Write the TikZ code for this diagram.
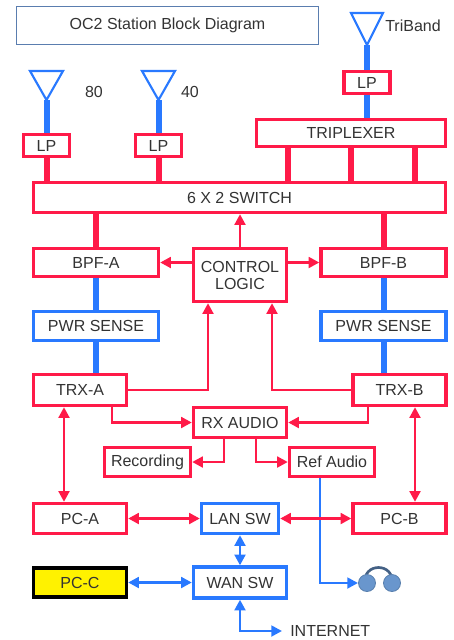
\documentclass[tikz,border=0pt]{standalone}
\usepackage{fontspec}
\setmainfont{Liberation Sans}
\usetikzlibrary{arrows.meta}
\definecolor{rojo}{RGB}{255,26,72}
\definecolor{azul}{RGB}{41,121,255}
\definecolor{texto}{RGB}{51,51,51}
\definecolor{marco}{RGB}{90,125,175}
\definecolor{auricular}{RGB}{105,150,205}

\begin{document}
\begin{tikzpicture}[x=0.75pt, y=-0.75pt, >={Triangle[length=8pt,width=8pt]},
    tam/.style 2 args={minimum width={(#1-3)*0.75pt}, minimum height={(#2-3)*0.75pt}},
    caja/.style={draw, line width=2.5pt, fill=white, inner sep=0pt, text=texto,
        font=\fontsize{12}{12.75}\selectfont, align=center},
    cajaroja/.style={caja, draw=rojo},
    cajaazul/.style={caja, draw=azul},
    etiqueta/.style={text=texto, font=\fontsize{12}{14}\selectfont},
    antena/.style={draw=azul, line width=1.6pt, line join=miter},
    tallo/.style={line width=4.5pt},
    flecha/.style={line width=2.2pt}]
    \useasboundingbox (0,0) rectangle (454,640);

    % Titulo
    \node[draw=marco, line width=0.8pt, minimum width=226.5pt, minimum height=28.5pt,
        etiqueta] (titulo) at (167.5,25.5) {OC2 Station Block Diagram};

    % Antenas
    \draw[antena] (30,71) -- (63,71) -- (46.5,100) coordinate (antA) -- cycle;
    \draw[antena] (142,71) -- (175,71) -- (158.5,100) coordinate (antB) -- cycle;
    \draw[antena] (351,13) -- (383,13) -- (367,45) coordinate (antT) -- cycle;
    \node[etiqueta] (l80) at (94,92) {80};
    \node[etiqueta] (l40) at (190,92) {40};
    \node[etiqueta] (ltri) at (413,26) {TriBand};

    % Cajas rojas
    \node[cajaroja, tam={49}{25}] (lpA) at (46.5,145.5) {LP};
    \node[cajaroja, tam={49}{25}] (lpB) at (158.5,145.5) {LP};
    \node[cajaroja, tam={49}{25}] (lpT) at (367,82.5) {LP};
    \node[cajaroja, tam={192}{30}] (trip) at (351,133) {TRIPLEXER};
    \node[cajaroja, tam={415}{33}] (sw) at (239.5,197.5) {6 X 2 SWITCH};
    \node[cajaroja, tam={128}{31}] (bpfA) at (96,262.5) {BPF-A};
    \node[cajaroja, tam={128}{31}] (bpfB) at (383.5,262.5) {BPF-B};
    \node[cajaroja, tam={96}{56}] (ctl) at (240,275) {CONTROL\\LOGIC};
    \node[cajaroja, tam={96}{34}] (trxA) at (80,390) {TRX-A};
    \node[cajaroja, tam={96}{34}] (trxB) at (399.5,390) {TRX-B};
    \node[cajaroja, tam={96}{33}] (rx) at (240,422.5) {RX AUDIO};
    \node[cajaroja, tam={89}{32}] (rec) at (147.5,462) {Recording};
    \node[cajaroja, tam={88}{32}] (ref) at (332,462) {Ref Audio};
    \node[cajaroja, tam={96}{33}] (pcA) at (80,518.5) {PC-A};
    \node[cajaroja, tam={96}{33}] (pcB) at (399.5,518.5) {PC-B};

    % Cajas azules
    \node[cajaazul, tam={128}{32}] (psA) at (96,326) {PWR SENSE};
    \node[cajaazul, tam={128}{32}] (psB) at (383.5,326) {PWR SENSE};
    \node[cajaazul, tam={80}{33}] (lan) at (240,518.5) {LAN SW};
    \node[cajaazul, tam={96}{34}] (wan) at (240,582.5) {WAN SW};
    \node[caja, draw=black, fill=yellow, tam={96}{32}] (pcC) at (80,582.5) {PC-C};
    \node[etiqueta, anchor=west, inner sep=6pt] (inet) at (282,631) {INTERNET};

    % Lineas gruesas de RF
    \draw[tallo, azul] (antA) -- (lpA);
    \draw[tallo, azul] (antB) -- (lpB);
    \draw[tallo, azul] (antT) -- (lpT);
    \draw[tallo, azul] (lpT) -- (lpT |- trip.north);
    \draw[tallo, rojo] (lpA) -- (lpA |- sw.north);
    \draw[tallo, rojo] (lpB) -- (lpB |- sw.north);
    \foreach \x in {288,351,415} {
        \coordinate (pata) at (\x,0);
        \draw[tallo, rojo] (trip.south -| pata) -- (sw.north -| pata);
    }
    \draw[tallo, rojo] (bpfA) -- (bpfA |- sw.south);
    \draw[tallo, rojo] (bpfB) -- (bpfB |- sw.south);
    \draw[tallo, azul] (bpfA) -- (psA);
    \draw[tallo, azul] (bpfB) -- (psB);
    \draw[tallo, azul] (psA) -- (psA |- trxA.north);
    \draw[tallo, azul] (psB) -- (psB |- trxB.north);

    % Control y audio (rojo)
    \coordinate (cA) at (208,0);
    \coordinate (cB) at (272,0);
    \coordinate (rA) at (112,0);
    \coordinate (rB) at (368,0);
    \coordinate (sA) at (224,0);
    \coordinate (sB) at (256,0);
    \coordinate (pA) at (64,0);
    \coordinate (pB) at (415,0);
    \draw[flecha, rojo, ->] (ctl.north) -- (ctl.north |- sw.south);
    \draw[flecha, rojo, ->] (ctl.west |- bpfA) -- (bpfA.east);
    \draw[flecha, rojo, ->] (ctl.east |- bpfB) -- (bpfB.west);
    \draw[flecha, rojo, ->] (trxA.east) -| (ctl.south -| cA);
    \draw[flecha, rojo, ->] (trxB.west) -| (ctl.south -| cB);
    \draw[flecha, rojo, ->] (trxA.south -| rA) |- (rx.west);
    \draw[flecha, rojo, ->] (trxB.south -| rB) |- (rx.east);
    \draw[flecha, rojo, ->] (rx.south -| sA) |- (rec.east);
    \draw[flecha, rojo, ->] (rx.south -| sB) |- (ref.west);
    \draw[flecha, rojo, <->] (trxA.south -| pA) -- (pcA.north -| pA);
    \draw[flecha, rojo, <->] (trxB.south -| pB) -- (pcB.north -| pB);

    % Red y auriculares (azul)
    \coordinate (rC) at (320,0);
    \coordinate (fonos) at (358,583);
    \draw[flecha, azul, ->] (ref.south -| rC) |- (fonos);
    \draw[flecha, rojo, <->] (pcA) -- (lan);
    \draw[flecha, rojo, <->] (lan) -- (pcB);
    \draw[flecha, azul, <->] (lan) -- (wan);
    \draw[flecha, azul, <->] (pcC) -- (wan);
    \draw[flecha, azul, <->] (wan.south) |- (inet.west);
    \draw[line width=2pt, auricular!65!black] (365,584) .. controls (362,562) and (395,562) .. (392,584);
    \filldraw[auricular, draw=auricular!85!black, line width=0.6pt] (367,583) circle (8.5);
    \filldraw[auricular, draw=auricular!85!black, line width=0.6pt] (392,583) circle (8.5);

\end{tikzpicture}
\end{document}
